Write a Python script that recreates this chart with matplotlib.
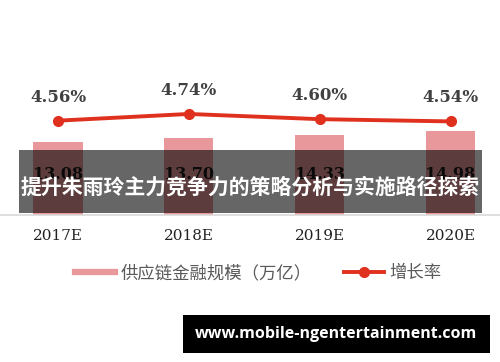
import matplotlib
matplotlib.use('Agg')
import matplotlib.pyplot as plt
from matplotlib.lines import Line2D
from matplotlib.patches import Rectangle

plt.rcParams['font.family'] = ['Noto Sans CJK SC', 'DejaVu Sans']

# chart data
years = ['2017E', '2018E', '2019E', '2020E']
scale = [13.08, 13.70, 14.33, 14.98]      # 供应链金融规模（万亿）
growth = [4.56, 4.74, 4.60, 4.54]         # 增长率 (%)

title = '提升朱雨玲主力竞争力的策略分析与实施路径探索'
watermark = 'www.mobile-ngentertainment.com'

bar_color = '#E8979A'
line_color = '#E0301E'

W, H = 500, 362
fig = plt.figure(figsize=(W / 100, H / 100), dpi=100)

# axes placed in pixel terms: baseline at y=215, top at y=60
ax = fig.add_axes([0, 1 - 215 / H, 1, 155 / H])
x = list(range(len(years)))
ax.bar(x, scale, width=0.375, color=bar_color, zorder=2)
ax.set_xlim(-0.443, 3.378)
ax.set_ylim(0, 27.64)
# value labels sit behind the title band, as in the original
for xi, v in zip(x, scale):
    ax.text(xi, 7.2, f'{v:.2f}', ha='center', va='center', family='DejaVu Serif',
            fontweight='bold', fontsize=11.5, color='#1a1a1a', zorder=3)

for s in ['top', 'left', 'right']:
    ax.spines[s].set_visible(False)
ax.spines['bottom'].set_color('#d9d9d9')
ax.spines['bottom'].set_linewidth(1.2)
ax.set_yticks([])
ax.set_xticks(x)
ax.set_xticklabels(years, family='DejaVu Serif', fontsize=11, color='#222222')
ax.tick_params(axis='x', length=0, pad=10)

ax2 = ax.twinx()
ax2.set_ylim(2.025, 6.19)
ax2.plot(x, growth, color=line_color, lw=2.8, marker='o', markersize=7, zorder=4)
for xi, g in zip(x, growth):
    ax2.annotate(f'{g:.2f}%', (xi, g), xytext=(0, 17), textcoords='offset points',
                 ha='center', va='center', family='DejaVu Serif', fontweight='bold',
                 fontsize=12, color='#404040')
ax2.set_yticks([])
for s in ax2.spines.values():
    s.set_visible(False)

handles = [Line2D([], [], color=bar_color, lw=4.5),
           Line2D([], [], color=line_color, lw=2.8, marker='o', markersize=7)]
fig.legend(handles, ['供应链金融规模（万亿）', '增长率'], loc='center',
           bbox_to_anchor=(0.517, 1 - 273 / H), ncol=2, frameon=False,
           fontsize=12.5, labelcolor='#595959', handlelength=2.3,
           handletextpad=0.3, columnspacing=1.9)

# dark overlay band with title
fig.patches.append(Rectangle((19 / W, 1 - 212.7 / H), 463 / W, 62.7 / H,
                             transform=fig.transFigure, facecolor='black',
                             alpha=0.6, zorder=10))
fig.text(250 / W, 1 - 187 / H, title, ha='center', va='center', color='white',
         fontsize=15, fontweight='bold', zorder=11)

# watermark box
fig.patches.append(Rectangle((183 / W, 1 - 353 / H), 307 / W, 38 / H,
                             transform=fig.transFigure, facecolor='black', zorder=10))
fig.text(336 / W, 1 - 334 / H, watermark, ha='center', va='center', color='white',
         fontsize=11.5, fontweight='bold', family='Open Sans', zorder=11)

fig.savefig('out.png', dpi=100)
